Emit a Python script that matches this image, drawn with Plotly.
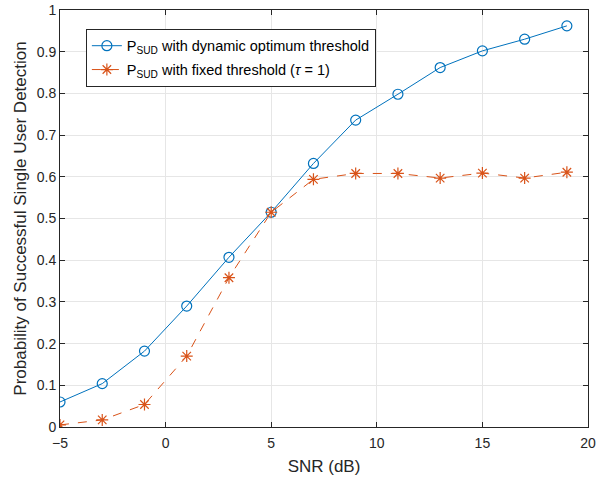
import plotly.graph_objects as go

snr = [-5, -3, -1, 1, 3, 5, 7, 9, 11, 13, 15, 17, 19]
p_dynamic = [0.060, 0.104, 0.182, 0.290, 0.407, 0.515, 0.632, 0.736, 0.798, 0.862, 0.902, 0.930, 0.962]
p_fixed = [0.005, 0.017, 0.054, 0.170, 0.358, 0.515, 0.594, 0.608, 0.608, 0.597, 0.609, 0.597, 0.611]

x_ticks = [-5, 0, 5, 10, 15, 20]
y_ticks = [0, 0.1, 0.2, 0.3, 0.4, 0.5, 0.6, 0.7, 0.8, 0.9, 1]
y_tick_text = ["0", "0.1", "0.2", "0.3", "0.4", "0.5", "0.6", "0.7", "0.8", "0.9", "1"]

blue = "#0072BD"
orange = "#D95319"
axc = "#262626"
font = "Liberation Sans, Arial, Helvetica, sans-serif"

fig = go.Figure()
fig.add_trace(go.Scatter(
    x=snr, y=p_dynamic, mode="lines+markers", legendgroup="a",
    name="P<sub>SUD</sub> with dynamic optimum threshold",
    line=dict(color=blue, width=1),
    marker=dict(symbol="circle-open", size=10, color=blue, line=dict(width=1.2, color=blue)),
))
fig.add_trace(go.Scatter(
    x=snr, y=p_fixed, mode="lines+markers", legendgroup="b",
    name="P<sub>SUD</sub> with fixed threshold (<i>τ</i> = 1)",
    line=dict(color=orange, width=1, dash="dash"),
    marker=dict(symbol="asterisk-open", size=10, color=orange, line=dict(width=1.2, color=orange)),
))

axis_common = dict(
    showline=True, linecolor=axc, linewidth=1, mirror="ticks",
    ticks="inside", ticklen=5, tickcolor=axc,
    showgrid=True, gridcolor="#e6e6e6", gridwidth=1,
    zeroline=False, automargin=False,
    tickfont=dict(family=font, size=14, color=axc),
)

fig.update_layout(
    width=596, height=481,
    margin=dict(l=60, r=8, t=10, b=54),
    paper_bgcolor="white", plot_bgcolor="white",
    font=dict(family=font, size=14, color=axc),
    showlegend=True,
    legend=dict(
        x=0.049, y=0.955, xanchor="left", yanchor="top",
        bgcolor="white", bordercolor=axc, borderwidth=1,
        font=dict(family=font, size=14.5, color="#000000"),
        tracegroupgap=2,
    ),
    xaxis=dict(
        range=[-5, 20], tickvals=x_ticks, ticklabelstandoff=3,
        title=dict(text="SNR (dB)", font=dict(family=font, size=17, color=axc), standoff=10),
        **axis_common,
    ),
    yaxis=dict(
        range=[0, 1], tickvals=y_ticks, ticktext=y_tick_text,
        title=dict(text="Probability of Successful Single User Detection",
                   font=dict(family=font, size=17, color=axc), standoff=5),
        **axis_common,
    ),
)

fig.write_html(
    "out.html",
    config={"displayModeBar": False},
    post_script="document.body.style.margin='0';document.body.style.overflow='hidden';",
)
